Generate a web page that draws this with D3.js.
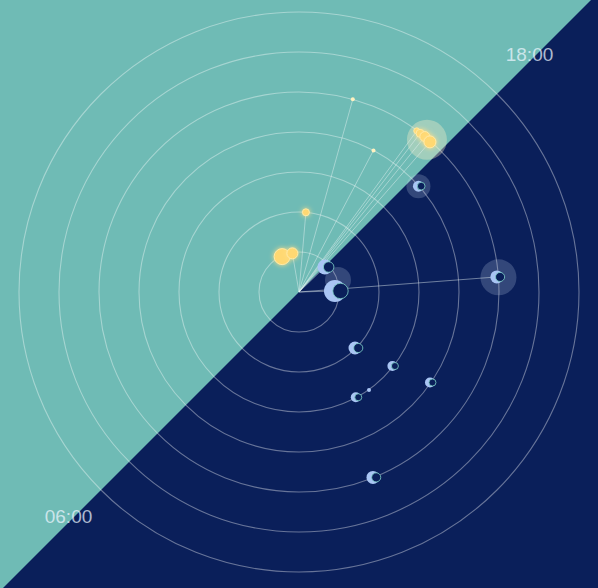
<!DOCTYPE html>
<html><head><meta charset="utf-8">
<script src="https://cdn.jsdelivr.net/npm/d3@7"></script>
<style>html,body{margin:0;padding:0;overflow:hidden;background:#0a1f5a}</style>
</head><body>
<script>
// ---- data ----
const ringTicks = [1, 2, 3, 4, 5, 6, 7];
const hourLabels = [18, 6];
const hourLabelText = ["18:00", "06:00"];

const sunTimes = [13.30, 14.35, 15.33, 16.04, 16.85, 17.41, 17.49, 17.60, 17.74];
const sunRings = [0.98, 0.98, 2.0, 5.0, 4.0, 4.99, 4.99, 5.0, 4.98];
const sunSizes = [8, 5.5, 3.5, 2, 2, 3, 4, 5, 6];

const moonTimes = [18.07, 20.89, 18.23, 20.71, 0.00, 23.56, 23.31, 1.11, 0.63, 1.55];
const moonRings = [0.90, 0.90, 3.99, 4.96, 1.98, 2.98, 3.98, 2.99, 3.01, 4.99];
const moonSizes = [7.5, 11, 5.5, 6.5, 6.5, 5, 5, 5, 2, 6.5];

const glowTimes = [17.67, 18.23, 20.72, 19.86];
const glowRings = [4.97, 3.99, 5.0, 1.02];
const glowSizes = [20, 12, 18, 13];
const glowKinds = ["sun", "moon", "moon", "moon"];

const sunLinks = [1, 2, 3, 4, 5, 6, 7, 8];
const moonLinks = [0, 1, 3];

// ---- layout ----
const W = 598, H = 588, cx = 299, cy = 292;
const angle = d3.scaleLinear().domain([0, 24]).range([135 * Math.PI / 180, 495 * Math.PI / 180]);
const rad = d3.scaleLinear().domain([0, 7]).range([0, 280]);
const pos = (t, r) => { const p = d3.pointRadial(angle(t), rad(r)); return [p[0], p[1]]; };

const svg = d3.select("body").append("svg").attr("width", W).attr("height", H);
const defs = svg.append("defs");
const f = defs.append("filter").attr("id", "sunglow").attr("x", "-100%").attr("y", "-100%").attr("width", "300%").attr("height", "300%");
f.append("feGaussianBlur").attr("in", "SourceGraphic").attr("stdDeviation", 2.5).attr("result", "b");
const m = f.append("feMerge");
m.append("feMergeNode").attr("in", "b");
m.append("feMergeNode").attr("in", "SourceGraphic");

svg.append("rect").attr("width", W).attr("height", H).attr("fill", "#0a1f5a");
const g = svg.append("g").attr("transform", `translate(${cx},${cy})`);

// day half-plane
const dayPts = [[18, 1000], [15, 1600], [12, 1600], [9, 1600], [6, 1000]].map(d => d3.pointRadial(angle(d[0]), d[1]));
g.append("path").attr("d", "M" + dayPts.map(p => p.join(",")).join("L") + "Z").attr("fill", "#6fbbb5");

// rings
g.selectAll("circle.ring").data(ringTicks).join("circle").attr("class", "ring")
  .attr("r", d => rad(d)).attr("fill", "none").attr("stroke", "#ffffff")
  .attr("stroke-opacity", 0.38).attr("stroke-width", 1.1);

// glows
g.selectAll("circle.glow").data(glowTimes.map((t, i) => ({ t, r: glowRings[i], s: glowSizes[i], k: glowKinds[i] })))
  .join("circle").attr("class", "glow")
  .attr("cx", d => pos(d.t, d.r)[0]).attr("cy", d => pos(d.t, d.r)[1]).attr("r", d => d.s)
  .attr("fill", d => d.k === "sun" ? "#fff3c8" : "#c8d4ee")
  .attr("fill-opacity", d => d.k === "sun" ? 0.35 : 0.22);

// links
const links = sunLinks.map(i => pos(sunTimes[i], sunRings[i])).concat(moonLinks.map(i => pos(moonTimes[i], moonRings[i])));
g.selectAll("line.link").data(links).join("line").attr("class", "link")
  .attr("x1", 0).attr("y1", 0).attr("x2", d => d[0]).attr("y2", d => d[1])
  .attr("stroke", "#e8f4f4").attr("stroke-opacity", 0.45).attr("stroke-width", 1);

// suns
g.selectAll("circle.sun").data(sunTimes.map((t, i) => ({ t, r: sunRings[i], s: sunSizes[i] })))
  .join("circle").attr("class", "sun")
  .attr("cx", d => pos(d.t, d.r)[0]).attr("cy", d => pos(d.t, d.r)[1]).attr("r", d => d.s)
  .attr("fill", d => d.s <= 2 ? "#fff1bf" : "#ffd872")
  .attr("stroke", "#ffeaa8").attr("stroke-width", d => d.s <= 2 ? 0 : 1)
  .attr("filter", d => d.s >= 3.5 ? "url(#sunglow)" : null);

// moons
const moons = g.selectAll("g.moon").data(moonTimes.map((t, i) => ({ t, r: moonRings[i], s: moonSizes[i] })))
  .join("g").attr("class", "moon")
  .attr("transform", d => `translate(${pos(d.t, d.r)[0]},${pos(d.t, d.r)[1]})`);
moons.append("circle").attr("r", d => d.s).attr("fill", "#a9c5f4");
moons.filter(d => d.s > 3).append("circle").attr("cx", d => d.s * 0.5).attr("r", d => d.s * 0.7)
  .attr("fill", "#0a1f5a").attr("stroke", "#7fd3c9").attr("stroke-width", 0.9).attr("stroke-opacity", 0.9);

// labels
g.selectAll("text.hour").data(hourLabels).join("text").attr("class", "hour")
  .attr("x", d => d3.pointRadial(angle(d), 326)[0]).attr("y", d => d3.pointRadial(angle(d), 326)[1])
  .attr("text-anchor", "middle").attr("font-family", "Liberation Sans, Arial, sans-serif")
  .attr("font-size", 19).attr("fill", "#eef6ff").attr("fill-opacity", 0.72)
  .text((d, i) => hourLabelText[i]);
</script>
</body></html>
